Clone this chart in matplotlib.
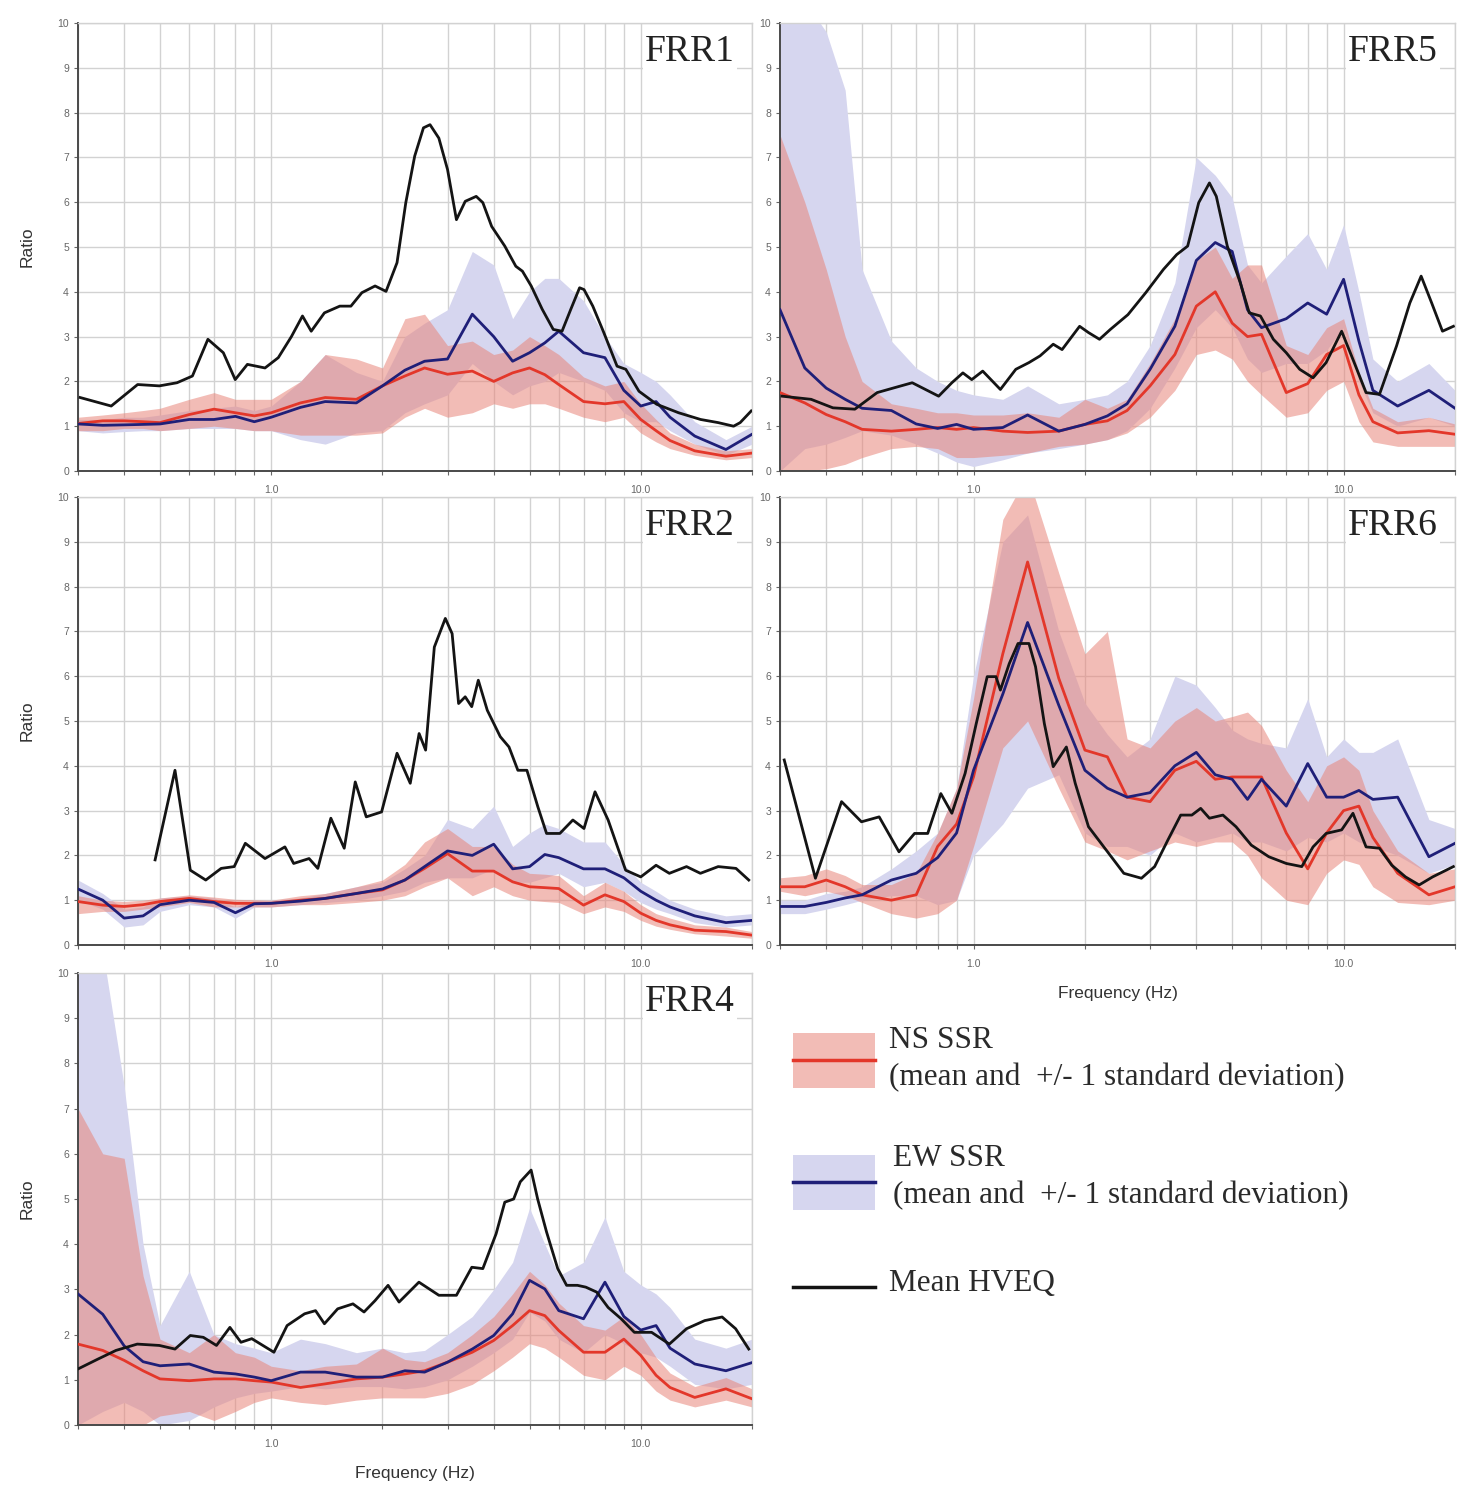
import matplotlib
matplotlib.use('Agg')
import matplotlib.pyplot as plt
from matplotlib.patches import Rectangle
import numpy as np

# frequency grid (Hz) on which the SSR curves were read
FREQ = [0.3, 0.35, 0.4, 0.45, 0.5, 0.6, 0.7, 0.8, 0.9, 1.0,
        1.2, 1.4, 1.7, 2.0, 2.3, 2.6, 3.0, 3.5, 4.0, 4.5, 5.0, 5.5, 6.0,
        7.0, 8.0, 9.0, 10.0, 11.0, 12.0, 14.0, 17.0, 20.0]

# ---- FRR1 ----
FRR1_NS = [1.06, 1.12, 1.12, 1.1, 1.08, 1.26, 1.38, 1.3, 1.23, 1.3,
           1.52, 1.64, 1.6, 1.9, 2.12, 2.3, 2.16, 2.23, 2.0, 2.19, 2.3, 2.15, 1.93,
           1.55, 1.5, 1.55, 1.15, 0.9, 0.68, 0.45, 0.33, 0.4]
FRR1_NS_LO = [0.9, 0.9, 0.95, 0.95, 0.9, 0.95, 1.0, 0.95, 0.9, 0.9,
              0.8, 0.8, 0.8, 0.85, 1.2, 1.4, 1.2, 1.3, 1.5, 1.4, 1.5, 1.5, 1.4,
              1.2, 1.1, 1.2, 0.85, 0.65, 0.5, 0.35, 0.25, 0.3]
FRR1_NS_HI = [1.2, 1.25, 1.3, 1.35, 1.4, 1.6, 1.75, 1.6, 1.6, 1.6,
              2.0, 2.6, 2.5, 2.3, 3.4, 3.5, 2.8, 2.9, 2.6, 2.7, 3.0, 2.8, 2.6,
              2.1, 1.9, 2.0, 1.5, 1.15, 0.85, 0.6, 0.45, 0.5]
FRR1_EW = [1.05, 1.02, 1.03, 1.04, 1.05, 1.15, 1.15, 1.22, 1.1, 1.2,
           1.42, 1.55, 1.52, 1.9, 2.25, 2.45, 2.5, 3.5, 3.0, 2.45, 2.64, 2.86, 3.12,
           2.64, 2.53, 1.8, 1.45, 1.55, 1.2, 0.78, 0.48, 0.82]
FRR1_EW_LO = [0.9, 0.85, 0.88, 0.9, 0.9, 0.95, 0.95, 0.95, 0.9, 0.9,
              0.7, 0.6, 0.85, 0.9, 1.3, 1.5, 1.7, 2.4, 2.0, 1.7, 1.9, 2.0, 2.2,
              2.0, 1.8, 1.3, 1.1, 1.1, 0.9, 0.6, 0.35, 0.6]
FRR1_EW_HI = [1.15, 1.15, 1.2, 1.2, 1.25, 1.35, 1.4, 1.45, 1.35, 1.45,
              2.0, 2.6, 2.2, 2.0, 3.0, 3.3, 3.6, 4.9, 4.6, 3.4, 4.0, 4.3, 4.3,
              3.8, 3.0, 2.4, 2.2, 2.0, 1.7, 1.1, 0.7, 1.0]
FRR1_HVEQ = [(0.304, 1.64), (0.369, 1.45), (0.435, 1.93), (0.498, 1.9), (0.556, 1.97),
             (0.612, 2.12), (0.674, 2.94), (0.742, 2.64), (0.799, 2.04), (0.862, 2.38),
             (0.962, 2.3), (1.045, 2.53), (1.134, 3.0), (1.215, 3.46), (1.283, 3.12),
             (1.393, 3.53), (1.533, 3.68), (1.643, 3.68), (1.759, 3.98), (1.91, 4.13),
             (2.045, 4.01), (2.19, 4.65), (2.313, 5.99), (2.445, 7.03), (2.582, 7.66),
             (2.69, 7.73), (2.842, 7.43), (3.0, 6.73), (3.171, 5.61), (3.35, 6.02),
             (3.587, 6.13), (3.738, 5.99), (3.949, 5.46), (4.286, 5.02), (4.591, 4.57),
             (4.784, 4.46), (5.053, 4.13), (5.412, 3.61), (5.797, 3.16), (6.123, 3.12),
             (6.467, 3.61), (6.831, 4.09), (7.021, 4.05), (7.417, 3.68), (7.943, 3.09),
             (8.627, 2.34), (9.111, 2.27), (9.89, 1.78), (11.04, 1.49), (12.66, 1.3),
             (14.52, 1.15), (16.2, 1.08), (17.83, 1.0), (18.58, 1.08), (19.9, 1.34)]

# ---- FRR2 ----
FRR2_NS = [0.97, 0.89, 0.86, 0.9, 0.97, 1.04, 0.97, 0.93, 0.93, 0.93,
           1.0, 1.04, 1.15, 1.23, 1.45, 1.71, 2.04, 1.65, 1.65, 1.41, 1.3, 1.28, 1.26,
           0.89, 1.12, 0.97, 0.71, 0.55, 0.45, 0.33, 0.3, 0.22]
FRR2_NS_LO = [0.7, 0.75, 0.75, 0.8, 0.85, 0.95, 0.85, 0.85, 0.85, 0.85,
              0.9, 0.9, 0.95, 1.0, 1.1, 1.3, 1.5, 1.1, 1.3, 1.1, 1.0, 0.97, 0.95,
              0.7, 0.85, 0.75, 0.55, 0.42, 0.35, 0.25, 0.2, 0.15]
FRR2_NS_HI = [1.1, 1.0, 0.97, 1.0, 1.05, 1.12, 1.07, 1.02, 1.01, 1.0,
              1.1, 1.15, 1.3, 1.45, 1.8, 2.3, 2.6, 2.2, 2.2, 1.8, 1.6, 1.58, 1.55,
              1.1, 1.4, 1.2, 0.9, 0.7, 0.6, 0.45, 0.4, 0.3]
FRR2_EW = [1.25, 1.0, 0.6, 0.65, 0.9, 1.0, 0.95, 0.72, 0.92, 0.93,
           0.98, 1.04, 1.15, 1.25, 1.45, 1.75, 2.1, 2.0, 2.25, 1.7, 1.75, 2.02, 1.95,
           1.7, 1.7, 1.5, 1.2, 1.0, 0.85, 0.65, 0.5, 0.55]
FRR2_EW_LO = [1.0, 0.8, 0.4, 0.45, 0.75, 0.9, 0.85, 0.6, 0.85, 0.85,
              0.9, 0.95, 1.0, 1.1, 1.2, 1.4, 1.5, 1.5, 1.7, 1.4, 1.4, 1.5, 1.6,
              1.3, 1.4, 1.2, 0.95, 0.8, 0.7, 0.5, 0.4, 0.45]
FRR2_EW_HI = [1.45, 1.15, 0.8, 0.85, 1.05, 1.1, 1.05, 0.85, 1.0, 1.0,
              1.05, 1.15, 1.3, 1.4, 1.7, 2.0, 2.8, 2.6, 3.1, 2.2, 2.5, 2.7, 2.6,
              2.3, 2.3, 1.8, 1.4, 1.2, 1.0, 0.8, 0.65, 0.7]
FRR2_HVEQ = [(0.485, 1.9), (0.549, 3.9), (0.604, 1.67), (0.665, 1.45), (0.732, 1.71),
             (0.794, 1.75), (0.851, 2.27), (0.962, 1.93), (1.089, 2.19), (1.15, 1.82),
             (1.266, 1.93), (1.337, 1.71), (1.45, 2.83), (1.576, 2.16), (1.688, 3.64),
             (1.808, 2.86), (1.989, 2.97), (2.19, 4.28), (2.378, 3.61), (2.513, 4.72),
             (2.617, 4.35), (2.763, 6.65), (2.959, 7.29), (3.087, 6.95), (3.214, 5.39),
             (3.349, 5.54), (3.488, 5.32), (3.634, 5.91), (3.843, 5.24), (4.167, 4.65),
             (4.4, 4.42), (4.65, 3.9), (4.92, 3.9), (5.264, 3.09), (5.56, 2.49),
             (6.04, 2.49), (6.55, 2.79), (7.02, 2.6), (7.52, 3.42), (8.16, 2.79),
             (9.1, 1.67), (10.0, 1.52), (11.0, 1.78), (11.95, 1.6), (13.3, 1.75),
             (14.5, 1.6), (16.2, 1.75), (18.1, 1.71), (19.6, 1.45)]

# ---- FRR4 ----
FRR4_NS = [1.79, 1.65, 1.43, 1.2, 1.02, 0.98, 1.02, 1.02, 0.98, 0.95,
           0.83, 0.91, 1.02, 1.06, 1.13, 1.2, 1.39, 1.61, 1.87, 2.2, 2.53, 2.42, 2.09,
           1.61, 1.61, 1.9, 1.54, 1.1, 0.83, 0.61, 0.8, 0.58]
FRR4_NS_LO = [0.0, 0.0, 0.0, 0.0, 0.2, 0.3, 0.1, 0.3, 0.5, 0.6,
              0.5, 0.45, 0.55, 0.6, 0.6, 0.6, 0.7, 0.9, 1.2, 1.5, 1.8, 1.7, 1.5,
              1.1, 1.0, 1.3, 1.1, 0.75, 0.55, 0.4, 0.55, 0.4]
FRR4_NS_HI = [7.0, 6.0, 5.9, 3.3, 1.9, 1.6, 2.0, 1.6, 1.5, 1.3,
              1.2, 1.3, 1.35, 1.7, 1.45, 1.4, 1.6, 2.0, 2.4, 2.9, 3.4, 3.1, 2.7,
              2.2, 2.1, 2.4, 2.0, 1.5, 1.15, 0.85, 1.05, 0.8]
FRR4_EW = [2.9, 2.45, 1.75, 1.4, 1.31, 1.35, 1.17, 1.13, 1.06, 0.98,
           1.17, 1.17, 1.06, 1.06, 1.2, 1.17, 1.39, 1.68, 1.98, 2.46, 3.2, 3.01, 2.53,
           2.35, 3.16, 2.4, 2.1, 2.2, 1.7, 1.35, 1.2, 1.38]
FRR4_EW_LO = [0.0, 0.3, 0.5, 0.3, 0.0, 0.1, 0.4, 0.6, 0.7, 0.75,
              0.85, 0.8, 0.85, 0.85, 0.8, 0.85, 1.0, 1.3, 1.6, 1.9, 2.5, 2.3, 1.9,
              1.6, 2.0, 1.8, 1.6, 1.5, 1.3, 0.9, 0.8, 0.9]
FRR4_EW_HI = [10.5, 10.5, 7.5, 4.0, 2.2, 3.4, 2.0, 1.8, 1.7, 1.6,
              1.9, 1.8, 1.6, 1.7, 1.6, 1.65, 2.0, 2.4, 3.0, 3.6, 4.8, 4.0, 3.3,
              3.6, 4.6, 3.4, 3.1, 2.9, 2.6, 1.9, 1.7, 1.9]
FRR4_HVEQ = [(0.3, 1.24), (0.34, 1.46), (0.38, 1.65), (0.434, 1.79), (0.498, 1.76),
             (0.549, 1.68), (0.604, 1.98), (0.655, 1.94), (0.711, 1.76), (0.773, 2.16),
             (0.828, 1.83), (0.886, 1.91), (1.017, 1.61), (1.104, 2.2), (1.231, 2.46),
             (1.318, 2.53), (1.393, 2.24), (1.513, 2.57), (1.664, 2.68), (1.783, 2.5),
             (1.909, 2.75), (2.071, 3.09), (2.218, 2.72), (2.51, 3.16), (2.842, 2.87),
             (3.171, 2.87), (3.49, 3.49), (3.738, 3.46), (4.06, 4.23), (4.286, 4.93),
             (4.53, 5.0), (4.72, 5.38), (5.05, 5.64), (5.26, 5.0), (5.56, 4.27),
             (5.96, 3.46), (6.3, 3.09), (6.74, 3.09), (7.1, 3.05), (7.6, 2.94),
             (8.16, 2.6), (8.85, 2.35), (9.61, 2.05), (10.7, 2.05), (11.95, 1.79),
             (13.3, 2.13), (14.9, 2.31), (16.6, 2.39), (18.06, 2.13), (19.6, 1.68)]

# ---- FRR5 ----
FRR5_NS = [1.75, 1.52, 1.26, 1.1, 0.93, 0.89, 0.93, 0.97, 0.93, 0.97,
           0.89, 0.86, 0.89, 1.04, 1.12, 1.35, 1.9, 2.6, 3.68, 4.0, 3.3, 3.0, 3.05,
           1.75, 1.95, 2.6, 2.8, 1.7, 1.1, 0.85, 0.9, 0.82]
FRR5_NS_LO = [0.0, 0.0, 0.05, 0.15, 0.3, 0.5, 0.55, 0.5, 0.3, 0.3,
              0.35, 0.4, 0.55, 0.6, 0.7, 0.85, 1.2, 1.8, 2.6, 2.7, 2.5, 2.0, 1.7,
              1.2, 1.3, 1.8, 2.0, 1.1, 0.65, 0.55, 0.55, 0.55]
FRR5_NS_HI = [7.5, 6.0, 4.5, 3.0, 2.0, 1.5, 1.4, 1.3, 1.3, 1.25,
              1.25, 1.3, 1.2, 1.6, 1.4, 1.6, 2.4, 3.4, 4.7, 5.0, 4.3, 4.6, 4.6,
              2.8, 2.6, 3.2, 3.4, 2.2, 1.4, 1.1, 1.2, 1.05]
FRR5_EW = [3.6, 2.3, 1.85, 1.6, 1.4, 1.35, 1.05, 0.95, 1.04, 0.93,
           0.97, 1.25, 0.89, 1.04, 1.23, 1.5, 2.27, 3.23, 4.7, 5.1, 4.9, 3.6, 3.2,
           3.4, 3.75, 3.5, 4.28, 2.9, 1.8, 1.45, 1.8, 1.4]
FRR5_EW_LO = [0.0, 0.5, 0.6, 0.75, 0.9, 0.8, 0.6, 0.4, 0.2, 0.1,
              0.25, 0.4, 0.5, 0.6, 0.7, 0.9, 1.4, 2.3, 3.2, 3.6, 3.2, 2.5, 2.2,
              2.4, 2.4, 2.7, 3.2, 2.0, 1.3, 1.0, 1.2, 1.0]
FRR5_EW_HI = [10.5, 10.5, 9.8, 8.5, 4.5, 2.9, 2.3, 2.0, 1.8, 1.7,
              1.6, 1.9, 1.5, 1.6, 1.7, 2.0, 2.8, 4.2, 7.0, 6.6, 6.1, 4.6, 4.2,
              4.8, 5.3, 4.5, 5.5, 4.0, 2.5, 2.0, 2.4, 1.8]
FRR5_HVEQ = [(0.304, 1.67), (0.364, 1.6), (0.417, 1.41), (0.478, 1.38), (0.549, 1.75),
             (0.612, 1.86), (0.683, 1.97), (0.805, 1.67), (0.874, 1.97), (0.936, 2.19),
             (0.989, 2.04), (1.059, 2.23), (1.182, 1.82), (1.301, 2.27), (1.412, 2.42),
             (1.513, 2.57), (1.642, 2.83), (1.735, 2.71), (1.935, 3.23), (2.045, 3.09),
             (2.19, 2.94), (2.343, 3.16), (2.614, 3.49), (2.92, 3.98), (3.26, 4.5),
             (3.54, 4.83), (3.79, 5.02), (4.06, 5.99), (4.34, 6.43), (4.53, 6.13),
             (4.85, 5.02), (5.26, 4.2), (5.56, 3.53), (5.96, 3.46), (6.46, 2.94),
             (7.0, 2.64), (7.61, 2.27), (8.27, 2.08), (8.97, 2.42), (9.88, 3.12),
             (10.6, 2.49), (11.5, 1.75), (12.5, 1.71), (13.9, 2.79), (15.1, 3.75),
             (16.2, 4.35), (17.3, 3.75), (18.5, 3.12), (19.8, 3.23)]

# ---- FRR6 ----
FRR6_NS = [1.3, 1.3, 1.45, 1.3, 1.12, 1.0, 1.12, 2.2, 2.7, 3.75,
           6.5, 8.55, 5.95, 4.35, 4.2, 3.3, 3.2, 3.9, 4.1, 3.7, 3.75, 3.75, 3.75,
           2.5, 1.7, 2.5, 3.0, 3.1, 2.4, 1.6, 1.12, 1.3]
FRR6_NS_LO = [1.2, 1.1, 1.2, 1.1, 0.95, 0.7, 0.6, 0.7, 1.0, 2.2,
              4.4, 5.0, 3.5, 2.3, 2.1, 1.9, 2.1, 2.3, 2.2, 2.3, 2.3, 2.0, 1.5,
              1.0, 0.9, 1.6, 1.9, 1.8, 1.3, 0.95, 0.9, 1.0]
FRR6_NS_HI = [1.5, 1.55, 1.7, 1.55, 1.35, 1.35, 1.6, 2.5, 3.5, 5.5,
              9.5, 10.5, 8.3, 6.5, 7.0, 4.6, 4.4, 5.0, 5.3, 5.0, 5.1, 5.2, 4.9,
              3.9, 3.2, 4.0, 4.2, 3.9, 3.0, 2.1, 1.6, 1.7]
FRR6_EW = [0.86, 0.86, 0.95, 1.05, 1.12, 1.45, 1.6, 1.95, 2.5, 3.9,
           5.6, 7.2, 5.35, 3.9, 3.5, 3.3, 3.4, 4.0, 4.3, 3.8, 3.7, 3.25, 3.7,
           3.1, 4.05, 3.3, 3.3, 3.45, 3.25, 3.3, 1.97, 2.27]
FRR6_EW_LO = [0.7, 0.7, 0.8, 0.9, 1.0, 1.1, 1.1, 0.9, 1.0, 2.0,
              2.7, 3.5, 3.8, 2.5, 2.2, 2.2, 2.0, 2.5, 2.3, 2.4, 2.5, 2.3, 2.3,
              2.1, 2.4, 2.3, 2.5, 2.3, 2.2, 2.0, 1.6, 1.8]
FRR6_EW_HI = [1.0, 1.0, 1.15, 1.2, 1.3, 1.7, 2.1, 2.5, 3.5, 6.0,
              9.0, 9.6, 7.0, 5.4, 4.7, 4.2, 4.6, 6.0, 5.8, 5.3, 4.8, 4.6, 4.5,
              4.4, 5.5, 4.2, 4.6, 4.3, 4.3, 4.6, 2.8, 2.6]
FRR6_HVEQ = [(0.308, 4.13), (0.374, 1.49), (0.44, 3.2), (0.498, 2.75), (0.556, 2.86),
             (0.629, 2.08), (0.693, 2.49), (0.752, 2.49), (0.816, 3.38), (0.874, 2.94),
             (0.949, 3.83), (1.017, 4.94), (1.089, 5.99), (1.15, 5.99), (1.182, 5.69),
             (1.249, 6.28), (1.319, 6.73), (1.412, 6.73), (1.471, 6.21), (1.554, 4.94),
             (1.642, 3.98), (1.782, 4.42), (1.883, 3.61), (2.045, 2.64), (2.283, 2.12),
             (2.548, 1.6), (2.843, 1.49), (3.086, 1.75), (3.35, 2.34), (3.63, 2.9),
             (3.89, 2.9), (4.11, 3.05), (4.34, 2.83), (4.72, 2.9), (5.12, 2.64),
             (5.63, 2.23), (6.28, 1.97), (7.0, 1.82), (7.71, 1.75), (8.27, 2.19),
             (8.97, 2.49), (9.88, 2.57), (10.6, 2.94), (11.5, 2.19), (12.5, 2.16),
             (13.5, 1.78), (14.7, 1.52), (16.0, 1.34), (17.4, 1.52), (19.8, 1.75)]

NS_LINE = '#e3372a'
NS_FILL = '#e8857a'
EW_LINE = '#1f1f78'
EW_FILL = '#d6d6ef'
HV_LINE = '#141414'
SANS = ['Liberation Sans', 'DejaVu Sans']
SERIF = ['Liberation Serif', 'DejaVu Serif']

W, H = 1461, 1491
fig = plt.figure(figsize=(W / 100, H / 100), dpi=100)


def box(x0, y0, x1, y1):
    # pixel box -> figure fraction
    return [x0 / W, 1 - y1 / H, (x1 - x0) / W, (y1 - y0) / H]


def draw_panel(rect, name, ns, ns_lo, ns_hi, ew, ew_lo, ew_hi, hveq,
               ylabel=False, xlabel=False):
    ax = fig.add_axes(rect)
    ax.set_axisbelow(True)
    ax.fill_between(FREQ, ew_lo, ew_hi, color=EW_FILL, lw=0, zorder=1)
    ax.fill_between(FREQ, ns_lo, ns_hi, color=NS_FILL, alpha=0.55, lw=0, zorder=2)
    ax.plot(FREQ, ns, color=NS_LINE, lw=2.0, zorder=3)
    ax.plot(FREQ, ew, color=EW_LINE, lw=2.0, zorder=4)
    hf, hv = zip(*hveq)
    ax.plot(hf, hv, color=HV_LINE, lw=2.0, zorder=5)

    ax.set_xscale('log')
    ax.set_xlim(0.3, 20)
    ax.set_ylim(0, 10)
    ax.set_xticks([1, 10])
    ax.set_xticklabels(['1.0', '10.0'])
    minors = [m * d for d in (0.1, 1, 10) for m in range(2, 10) if 0.3 <= m * d <= 20]
    ax.set_xticks(minors, minor=True)
    ax.xaxis.set_minor_formatter(plt.NullFormatter())
    ax.set_yticks(range(0, 11))
    ax.grid(True, which='both', color='#d2d2d2', lw=1.0)
    ax.tick_params(axis='both', which='both', labelsize=7.5, colors='#666666',
                   length=3, width=0.8)
    ax.tick_params(axis='x', pad=7)
    for t in ax.get_xticklabels() + ax.get_yticklabels():
        t.set_family(SANS)
    for s in ('left', 'bottom'):
        ax.spines[s].set_color('#4a4a4a')
        ax.spines[s].set_linewidth(1.4)
    for s in ('top', 'right'):
        ax.spines[s].set_color('#d2d2d2')
        ax.spines[s].set_linewidth(1.0)

    ax.text(0.975, 0.975, name, transform=ax.transAxes, ha='right', va='top',
            fontsize=27, family=SERIF, color='#222222', zorder=10,
            bbox=dict(facecolor='white', edgecolor='none', pad=1.5))
    if ylabel:
        ax.set_ylabel('Ratio', fontsize=12.5, family=SANS, color='#333333')
        ax.yaxis.set_label_coords(-0.065, 0.5)
    if xlabel:
        ax.set_xlabel('Frequency (Hz)', fontsize=12.5, family=SANS, color='#333333')
        ax.xaxis.set_label_coords(0.5, -0.108)
        ax.xaxis.label.set_va('center')
    return ax


draw_panel(box(78, 23, 752, 471), 'FRR1', FRR1_NS, FRR1_NS_LO, FRR1_NS_HI,
           FRR1_EW, FRR1_EW_LO, FRR1_EW_HI, FRR1_HVEQ, ylabel=True)
draw_panel(box(78, 497, 752, 945), 'FRR2', FRR2_NS, FRR2_NS_LO, FRR2_NS_HI,
           FRR2_EW, FRR2_EW_LO, FRR2_EW_HI, FRR2_HVEQ, ylabel=True)
draw_panel(box(78, 973, 752, 1425), 'FRR4', FRR4_NS, FRR4_NS_LO, FRR4_NS_HI,
           FRR4_EW, FRR4_EW_LO, FRR4_EW_HI, FRR4_HVEQ, ylabel=True, xlabel=True)
draw_panel(box(780, 23, 1455, 471), 'FRR5', FRR5_NS, FRR5_NS_LO, FRR5_NS_HI,
           FRR5_EW, FRR5_EW_LO, FRR5_EW_HI, FRR5_HVEQ)
draw_panel(box(780, 497, 1455, 945), 'FRR6', FRR6_NS, FRR6_NS_LO, FRR6_NS_HI,
           FRR6_EW, FRR6_EW_LO, FRR6_EW_HI, FRR6_HVEQ, xlabel=True)

# legend drawn by hand in pixel coordinates
lg = fig.add_axes([0, 0, 1, 1])
lg.set_xlim(0, W)
lg.set_ylim(H, 0)
lg.axis('off')
lg.patch.set_visible(False)
lg.add_patch(Rectangle((793, 1033), 82, 55, color=NS_FILL, alpha=0.55, lw=0))
lg.plot([793, 875], [1060, 1060], color=NS_LINE, lw=2.5)
lg.add_patch(Rectangle((793, 1155), 82, 55, color=EW_FILL, lw=0))
lg.plot([793, 875], [1182, 1182], color=EW_LINE, lw=2.5)
lg.plot([793, 875], [1287, 1287], color=HV_LINE, lw=2.5)
txt = dict(fontsize=22.5, family=SERIF, color='#2a2a2a', va='center', ha='left')
lg.text(889, 1041, 'NS SSR', **txt)
lg.text(889, 1078, '(mean and  +/- 1 standard deviation)', **txt)
lg.text(893, 1159, 'EW SSR', **txt)
lg.text(893, 1196, '(mean and  +/- 1 standard deviation)', **txt)
lg.text(889, 1283, 'Mean HVEQ', **txt)

fig.savefig('out.png', dpi=100)
